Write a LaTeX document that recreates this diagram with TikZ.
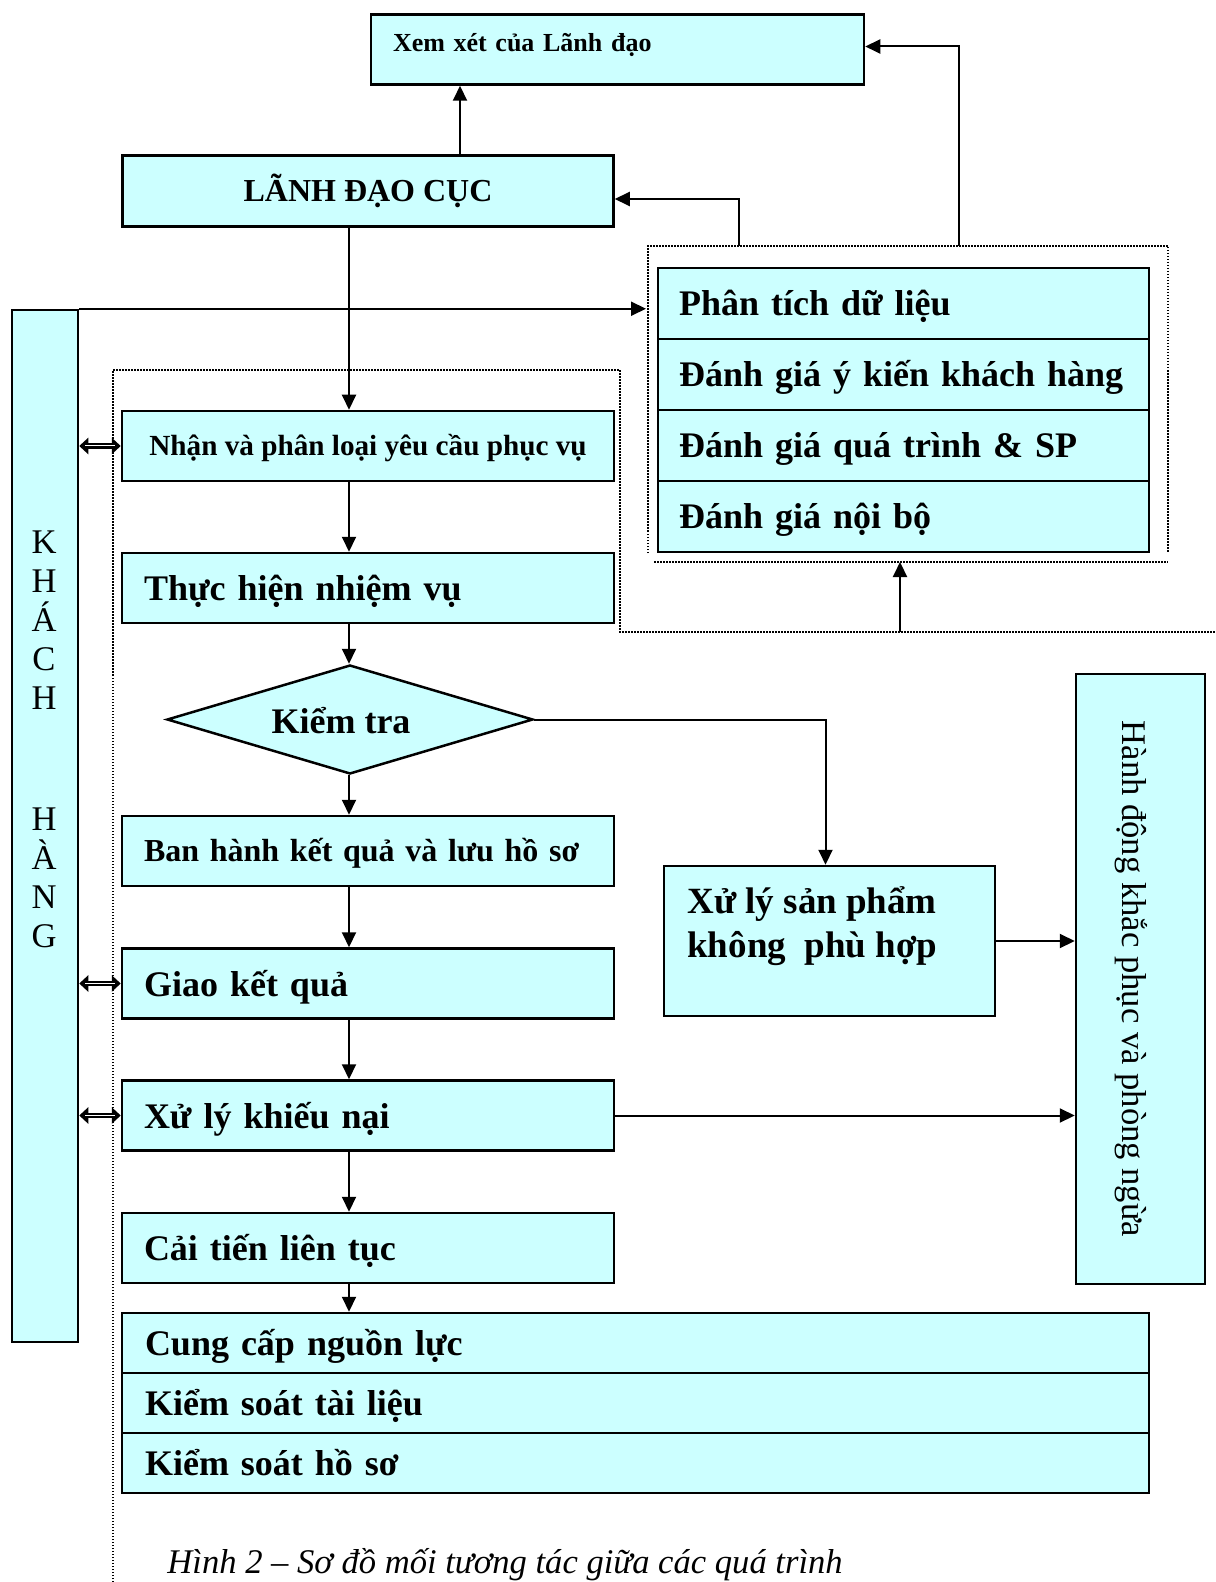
\documentclass[tikz,border=0pt]{standalone}
\usepackage{fontspec}
\setmainfont{Liberation Serif}
\usetikzlibrary{shapes.geometric,arrows.meta,calc}
\definecolor{boxcyan}{HTML}{CCFFFF}
\newlength\unitpx \setlength\unitpx{0.5pt}
\newcommand\fs[2]{\fontsize{#1}{#2}\selectfont}
\begin{document}
\begin{tikzpicture}[x=0.5pt,y=-0.5pt,
  box/.style={draw=black, line width=1.25pt, fill=boxcyan, inner sep=0pt},
  bigfont/.style={font=\bfseries\fs{18}{22}},
  big/.style={bigfont, text height=14.5pt, text depth=2pt},
  mbox/.style={box, minimum width=492\unitpx, minimum height=70\unitpx},
  lbox/.style={mbox, align=left, text width=448\unitpx, inner xsep=22\unitpx},
  rbox/.style={box, minimum width=491\unitpx, minimum height=71\unitpx, align=left, text width=449\unitpx, inner xsep=21\unitpx, big},
  bbox/.style={box, minimum width=1027\unitpx, minimum height=60\unitpx, align=left, text width=981\unitpx, inner xsep=23\unitpx, big},
  arr/.style={line width=1pt, -{Triangle[length=7.5pt,width=7pt]}},
  dots/.style={line width=0.75pt, dash pattern=on 0.75pt off 0.75pt},
  dblout/.style={line width=2.6pt, {Triangle[length=4.5pt,width=8pt]}-{Triangle[length=4.5pt,width=8pt]}},
  dblin/.style={white, line width=0.5pt, shorten <=3pt, shorten >=3pt}
]
\useasboundingbox[fill=white] (0,0) rectangle (1215,1582);

% dotted outlines
\draw[dots] (648,553) -- (648,246) -- (1168,246) -- (1168,553);
\draw[dots] (654,562) -- (1168,562);
\draw[dots] (113,1582) -- (113,370) -- (620,370) -- (620,632) -- (1215,632);

% top
\node[box, minimum width=493\unitpx, minimum height=70\unitpx, align=left, text width=449\unitpx, inner xsep=22\unitpx, font=\bfseries\fs{13}{16}, text height=3.6pt, text depth=2pt] (xem) at (617.5,49.5) {Xem xét của Lãnh đạo};
\node[box, minimum width=491\unitpx, minimum height=71\unitpx, font=\bfseries\fs{16}{19}, text height=12.6pt, text depth=2pt] (ldc) at (368,191) {LÃNH ĐẠO CỤC};

% right stack
\node[rbox] (r1) at (903.5,303.5) {Phân tích dữ liệu};
\node[rbox] (r2) at (903.5,374.5) {\mbox{Đánh giá ý kiến khách hàng}};
\node[rbox] (r3) at (903.5,445.5) {Đánh giá quá trình \& SP};
\node[rbox] (r4) at (903.5,516.5) {Đánh giá nội bộ};

% customer
\node[box, minimum width=66\unitpx, minimum height=1032\unitpx] (kh) at (45,826) {};
\node[font=\fs{17.3}{19.5}, align=center, inner sep=0pt] (khT) at (44,739) {K\\H\\Á\\C\\H\\[41pt]H\\À\\N\\G};

% main chain
\node[mbox, font=\bfseries\fs{14.6}{17}, text height=11.6pt, text depth=2pt] (nhan) at (368,446) {Nhận và phân loại yêu cầu phục vụ};
\node[lbox, big] (thuc) at (368,588) {Thực hiện nhiệm vụ};
\node[draw=black, line width=1.25pt, fill=boxcyan, diamond, shape aspect=3.36, minimum width=366\unitpx, minimum height=109\unitpx, inner sep=0pt, bigfont, text height=15.5pt, text depth=2pt] (kt) at (350,719.5) {Kiểm tra\hspace*{18\unitpx}};
\node[lbox, font=\bfseries\fs{16}{19}, text height=12.6pt, text depth=2pt] (ban) at (368,851) {\mbox{Ban hành kết quả và lưu hồ sơ}};
\node[lbox, big] (giao) at (368,983.5) {Giao kết quả};
\node[lbox, big] (xlkn) at (368,1115.5) {Xử lý khiếu nại};
\node[lbox, big] (cai) at (368,1248) {Cải tiến liên tục};

% bottom stack
\node[bbox] (b1) at (635.5,1343) {Cung cấp nguồn lực};
\node[bbox] (b2) at (635.5,1403) {Kiểm soát tài liệu};
\node[bbox] (b3) at (635.5,1463) {Kiểm soát hồ sơ};

% nonconforming product
\node[box, minimum width=331\unitpx, minimum height=150\unitpx] (xlsp) at (829.5,941) {};
\node[font=\bfseries\fs{18.5}{22}, align=left, anchor=west, inner sep=0pt] (xlspT) at (687,926) {Xử lý sản phẩm\\không\ \ phù hợp};

% corrective action
\node[box, minimum width=129\unitpx, minimum height=610\unitpx] (hd) at (1140.5,979) {};
\node[font=\fs{17.3}{20}, rotate=-90, inner sep=0pt] (hdT) at (1131,979) {Hành động khắc phục và phòng ngừa};

% caption
\node[anchor=west, font=\itshape\fs{17.3}{20}, inner sep=0pt] (cap) at (167,1565) {Hình 2 – Sơ đồ mối tương tác giữa các quá trình};

% helper coordinates
\coordinate (ax1) at (460,0);
\coordinate (ax2) at (349,0);
\coordinate (dt1) at (739,246);
\coordinate (dt2) at (959,246);
\coordinate (dl) at (646,310);
\coordinate (lb) at (900,632);
\coordinate (db) at (900,562);

% connectors
\draw[arr] (ax1 |- ldc.north) -- (ax1 |- xem.south);
\draw[arr] (dt2) |- ($(xem.east)+(0,-3)$);
\draw[arr] (dt1) |- ($(ldc.east)+(0,8)$);
\draw[arr] (kh.north east) -- (kh.north east -| dl);
\draw[arr] (lb) -- (db);

\draw[arr] (ax2 |- ldc.south) -- (ax2 |- nhan.north);
\draw[arr] (ax2 |- nhan.south) -- (ax2 |- thuc.north);
\draw[arr] (ax2 |- thuc.south) -- (ax2 |- kt.north);
\draw[arr] (ax2 |- kt.south) -- (ax2 |- ban.north);
\draw[arr] (ax2 |- ban.south) -- (ax2 |- giao.north);
\draw[arr] (ax2 |- giao.south) -- (ax2 |- xlkn.north);
\draw[arr] (ax2 |- xlkn.south) -- (ax2 |- cai.north);
\draw[arr] (ax2 |- cai.south) -- (ax2 |- b1.north);

\draw[arr] (kt.east) -| ($(xlsp.north)+(-4,0)$);
\draw[arr] (xlsp.east) -- (xlsp.east -| hd.west);
\draw[arr] (xlkn.east) -- (xlkn.east -| hd.west);

\draw[dblout] (kh.east |- nhan.west) -- (nhan.west);
\draw[dblin] (kh.east |- nhan.west) -- (nhan.west);
\draw[dblout] (kh.east |- giao.west) -- (giao.west);
\draw[dblin] (kh.east |- giao.west) -- (giao.west);
\draw[dblout] (kh.east |- xlkn.west) -- (xlkn.west);
\draw[dblin] (kh.east |- xlkn.west) -- (xlkn.west);
\end{tikzpicture}
\end{document}
